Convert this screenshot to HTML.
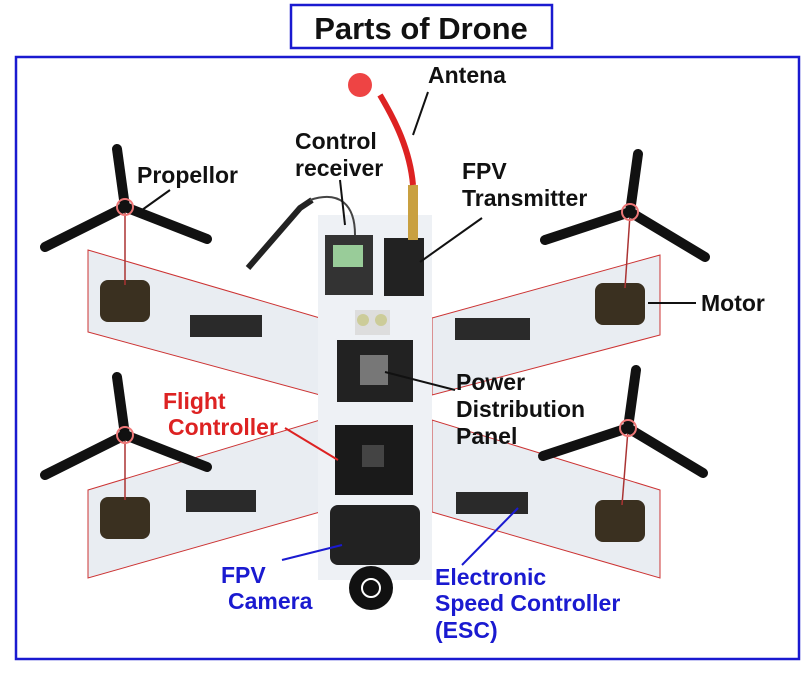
<!DOCTYPE html>
<html><head><meta charset="utf-8"><style>
body{margin:0;width:808px;height:670px;background:#fff;overflow:hidden;font-family:"Liberation Sans",Arial,sans-serif}
</style></head><body>
<svg width="808" height="670" xmlns="http://www.w3.org/2000/svg" font-family="Liberation Sans, Arial, sans-serif" font-weight="bold">
<rect x="291" y="5" width="261" height="43" fill="#fff" stroke="#1a1ad0" stroke-width="2.5"/>
<text x="421" y="39" font-size="31" text-anchor="middle" fill="#111">Parts of Drone</text>
<rect x="16" y="57" width="783" height="602" fill="#fff" stroke="#1a1ad0" stroke-width="2.5"/>
<g fill="#e9edf2" stroke="#c33" stroke-width="1">
<polygon points="88,250 320,318 320,395 88,332"/>
<polygon points="660,255 432,318 432,395 660,335"/>
<polygon points="88,490 320,420 320,512 88,578"/>
<polygon points="660,490 432,420 432,512 660,578"/>
</g>
<rect x="318" y="215" width="114" height="365" fill="#eef1f5"/>
<rect x="325" y="235" width="48" height="60" fill="#333"/><rect x="333" y="245" width="30" height="22" fill="#9c9"/>
<rect x="384" y="238" width="40" height="58" fill="#222"/>
<rect x="408" y="185" width="10" height="55" fill="#c9a040"/>
<path d="M413,185 C410,150 395,120 380,95" stroke="#d22" stroke-width="6" fill="none"/>
<circle cx="360" cy="85" r="12" fill="#e44"/>
<path d="M248,268 L300,208 L312,200" stroke="#222" stroke-width="6" fill="none"/>
<path d="M310,200 C340,190 355,205 355,235" stroke="#444" stroke-width="2" fill="none"/>
<rect x="355" y="310" width="35" height="25" fill="#ddd"/><circle cx="363" cy="320" r="6" fill="#cc9"/><circle cx="381" cy="320" r="6" fill="#cc9"/>
<rect x="337" y="340" width="76" height="62" fill="#222"/><rect x="360" y="355" width="28" height="30" fill="#777"/>
<rect x="335" y="425" width="78" height="70" fill="#1a1a1a"/><rect x="362" y="445" width="22" height="22" fill="#444"/>
<rect x="330" y="505" width="90" height="60" rx="8" fill="#222"/>
<circle cx="371" cy="588" r="22" fill="#111"/><circle cx="371" cy="588" r="9" fill="none" stroke="#fff" stroke-width="2"/>
<g fill="#2a2a2a"><rect x="190" y="315" width="72" height="22"/><rect x="455" y="318" width="75" height="22"/><rect x="186" y="490" width="70" height="22"/><rect x="456" y="492" width="72" height="22"/></g>
<g fill="#3a3020"><rect x="100" y="280" width="50" height="42" rx="8"/><rect x="595" y="283" width="50" height="42" rx="8"/><rect x="100" y="497" width="50" height="42" rx="8"/><rect x="595" y="500" width="50" height="42" rx="8"/></g>
<g stroke="#a33" stroke-width="1.5"><line x1="125" y1="210" x2="125" y2="285"/><line x1="630" y1="215" x2="625" y2="288"/><line x1="125" y1="437" x2="125" y2="500"/><line x1="628" y1="430" x2="622" y2="505"/></g>
<g stroke="#111" stroke-width="10" stroke-linecap="round" fill="none">
<g transform="translate(125,207)"><path d="M0,0 L-8,-58"/><path d="M0,0 L-80,40"/><path d="M0,0 L82,32"/></g>
<g transform="translate(630,212)"><path d="M0,0 L8,-58"/><path d="M0,0 L-85,28"/><path d="M0,0 L75,45"/></g>
<g transform="translate(125,435)"><path d="M0,0 L-8,-58"/><path d="M0,0 L-80,40"/><path d="M0,0 L82,32"/></g>
<g transform="translate(628,428)"><path d="M0,0 L8,-58"/><path d="M0,0 L-85,28"/><path d="M0,0 L75,45"/></g>
</g>
<g fill="none" stroke="#e77" stroke-width="2"><circle cx="125" cy="207" r="8"/><circle cx="630" cy="212" r="8"/><circle cx="125" cy="435" r="8"/><circle cx="628" cy="428" r="8"/></g>
<g stroke="#111" stroke-width="2">
<line x1="428" y1="92" x2="413" y2="135"/><line x1="340" y1="180" x2="345" y2="225"/>
<line x1="482" y1="218" x2="420" y2="262"/><line x1="170" y1="190" x2="135" y2="215"/>
<line x1="696" y1="303" x2="648" y2="303"/><line x1="455" y1="390" x2="385" y2="372"/>
</g>
<line x1="285" y1="428" x2="338" y2="460" stroke="#d22" stroke-width="2"/>
<g stroke="#1a1ad0" stroke-width="2"><line x1="282" y1="560" x2="342" y2="545"/><line x1="462" y1="565" x2="518" y2="508"/></g>
<g font-size="23" fill="#111">
<text x="428" y="83">Antena</text>
<text x="295" y="149">Control</text><text x="295" y="176">receiver</text>
<text x="462" y="179">FPV</text><text x="462" y="206">Transmitter</text>
<text x="137" y="183">Propellor</text>
<text x="701" y="311">Motor</text>
<text x="456" y="390">Power</text><text x="456" y="417">Distribution</text><text x="456" y="444">Panel</text>
</g>
<g font-size="23" fill="#d22"><text x="163" y="409">Flight</text><text x="168" y="435">Controller</text></g>
<g font-size="23" fill="#1a1ad0"><text x="221" y="583">FPV</text><text x="228" y="609">Camera</text>
<text x="435" y="585">Electronic</text><text x="435" y="611">Speed Controller</text><text x="435" y="638">(ESC)</text></g>
</svg>
</body></html>
